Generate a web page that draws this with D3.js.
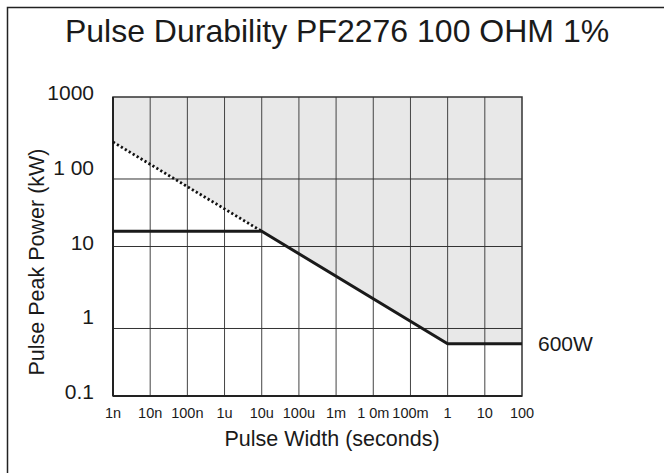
<!DOCTYPE html>
<html>
<head>
<meta charset="utf-8">
<script src="https://cdn.jsdelivr.net/npm/d3@7"></script>
<style>
  html, body { margin: 0; padding: 0; background: #fff; }
  svg { display: block; font-family: "Liberation Sans", Arial, sans-serif; }
</style>
</head>
<body>
<svg id="chart" width="664" height="475"></svg>
<script>
// ---- data ----
const xTickValues = [1e-9, 1e-8, 1e-7, 1e-6, 1e-5, 1e-4, 1e-3, 1e-2, 1e-1, 1, 10, 100];
const xTickLabels = ["1n", "10n", "100n", "1u", "10u", "100u", "1m", "1 0m", "100m", "1", "10", "100"];
const yTickValues = [1000, 100, 10, 1, 0.1];
const yTickLabels = ["1000", "1 00", "10", "1", "0.1"];
const yGridValues = [80, 10, 0.8];           // horizontal grid lines as drawn in the picture
const limitWidth = [1e-9, 1e-5, 1, 100];     // seconds
const limitPower = [16, 16, 0.5, 0.5];       // kW
const extrapWidth = [1e-9, 1e-5];
const extrapPower = [250, 16];
const titleText = "Pulse Durability PF2276 100 OHM 1%";
const xTitle = "Pulse Width (seconds)";
const yTitle = "Pulse Peak Power (kW)";
const noteText = "600W";

// ---- layout ----
const svg = d3.select("#chart");
const L = 113, R = 522, T = 97, B = 396;
const x = d3.scaleLog().domain([1e-9, 100]).range([L, R]);
const y = d3.scaleLog().domain([0.1, 1000]).range([B, T]);

// outer frame (top and left edges visible)
svg.append("path")
  .attr("d", `M7.5,473 L7.5,7.5 L664,7.5`)
  .attr("fill", "none").attr("stroke", "#222").attr("stroke-width", 1.5);

// title
svg.append("text")
  .attr("x", 337).attr("y", 42)
  .attr("text-anchor", "middle")
  .attr("font-size", 32).attr("fill", "#1a1a1a")
  .text(titleText);

// shaded region above envelope
const envelope = [
  {w: extrapWidth[0], p: extrapPower[0]},
  {w: extrapWidth[1], p: extrapPower[1]},
  {w: limitWidth[2], p: limitPower[2]},
  {w: limitWidth[3], p: limitPower[3]}
];
svg.append("path")
  .datum(envelope)
  .attr("fill", "#e8e8e8")
  .attr("d", d3.area().x(d => x(d.w)).y0(d => y(d.p)).y1(y(1000)));

// vertical grid
svg.append("g").selectAll("line")
  .data(xTickValues.slice(1, -1))
  .join("line")
  .attr("x1", d => x(d)).attr("x2", d => x(d))
  .attr("y1", T).attr("y2", B)
  .attr("stroke", "#444").attr("stroke-width", 1);

// horizontal grid
svg.append("g").selectAll("line")
  .data(yGridValues)
  .join("line")
  .attr("x1", L).attr("x2", R)
  .attr("y1", d => y(d)).attr("y2", d => y(d))
  .attr("stroke", "#333").attr("stroke-width", 1);

// plot border
svg.append("rect")
  .attr("x", L).attr("y", T).attr("width", R - L).attr("height", B - T)
  .attr("fill", "none").attr("stroke", "#333").attr("stroke-width", 1.5);
svg.append("line").attr("x1", L).attr("x2", L).attr("y1", T).attr("y2", B)
  .attr("stroke", "#222").attr("stroke-width", 2);
svg.append("line").attr("x1", L).attr("x2", R).attr("y1", B).attr("y2", B)
  .attr("stroke", "#222").attr("stroke-width", 2);

// extrapolated dotted line
svg.append("path")
  .datum(extrapWidth.map((w, i) => ({w, p: extrapPower[i]})))
  .attr("fill", "none").attr("stroke", "#111")
  .attr("stroke-width", 2.8).attr("stroke-dasharray", "2.2,2.4")
  .attr("d", d3.line().x(d => x(d.w)).y(d => y(d.p)));

// limit line
svg.append("path")
  .datum(limitWidth.map((w, i) => ({w, p: limitPower[i]})))
  .attr("fill", "none").attr("stroke", "#1a1a1a")
  .attr("stroke-width", 3)
  .attr("d", d3.line().x(d => x(d.w)).y(d => y(d.p)));

// x tick labels
svg.append("g").selectAll("text")
  .data(xTickValues)
  .join("text")
  .attr("x", d => x(d)).attr("y", 418)
  .attr("text-anchor", "middle")
  .attr("font-size", 14.5).attr("fill", "#1a1a1a")
  .text((d, i) => xTickLabels[i]);

// y tick labels
svg.append("g").selectAll("text")
  .data(yTickValues)
  .join("text")
  .attr("x", 94).attr("y", d => y(d) + 3)
  .attr("text-anchor", "end")
  .attr("font-size", 21).attr("fill", "#1a1a1a")
  .text((d, i) => yTickLabels[i]);

// axis titles
svg.append("text")
  .attr("x", 332).attr("y", 446)
  .attr("text-anchor", "middle")
  .attr("font-size", 21.5).attr("fill", "#1a1a1a")
  .text(xTitle);
svg.append("text")
  .attr("transform", "translate(44,262) rotate(-90)")
  .attr("text-anchor", "middle")
  .attr("font-size", 21.5).attr("fill", "#1a1a1a")
  .text(yTitle);

// 600W note
svg.append("text")
  .attr("x", 538).attr("y", y(limitPower[3]) + 7)
  .attr("font-size", 21).attr("fill", "#1a1a1a")
  .text(noteText);
</script>
</body>
</html>
